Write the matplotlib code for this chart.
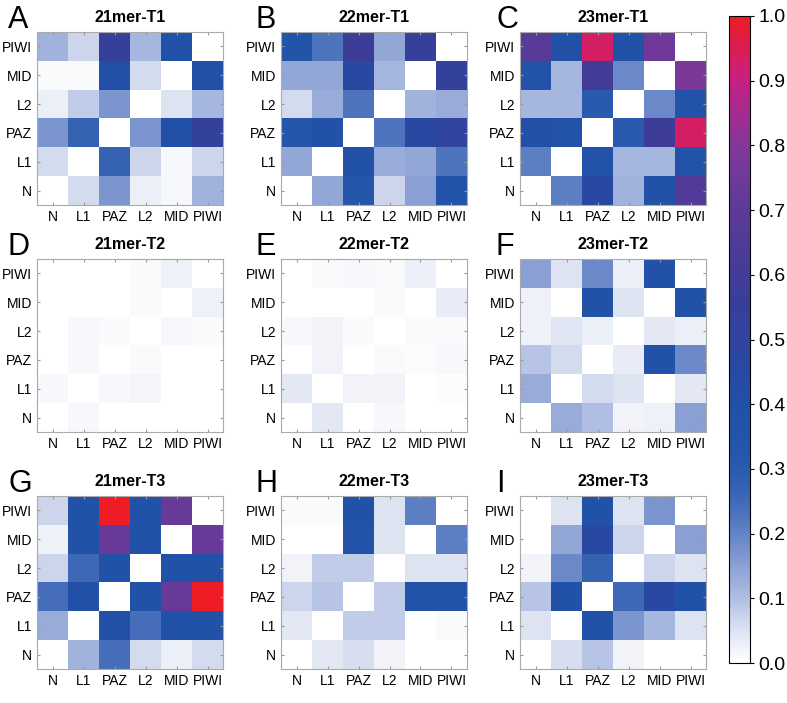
import matplotlib
matplotlib.use("Agg")
import matplotlib.pyplot as plt
from matplotlib.colors import LinearSegmentedColormap
import numpy as np

plt.rcParams['font.family'] = ['Liberation Sans', 'DejaVu Sans']

# domain labels, matrix rows listed from top (PIWI) to bottom (N)
cols = ['N', 'L1', 'PAZ', 'L2', 'MID', 'PIWI']
rows = ['PIWI', 'MID', 'L2', 'PAZ', 'L1', 'N']

titles = ['21mer-T1', '22mer-T1', '23mer-T1',
          '21mer-T2', '22mer-T2', '23mer-T2',
          '21mer-T3', '22mer-T3', '23mer-T3']
letters = ['A', 'B', 'C', 'D', 'E', 'F', 'G', 'H', 'I']

m21_t1 = [[0.12, 0.07, 0.55, 0.11, 0.38, 0.00],
          [0.01, 0.01, 0.40, 0.06, 0.00, 0.40],
          [0.03, 0.08, 0.17, 0.00, 0.05, 0.11],
          [0.17, 0.27, 0.00, 0.17, 0.40, 0.52],
          [0.06, 0.00, 0.27, 0.07, 0.015, 0.07],
          [0.00, 0.06, 0.17, 0.03, 0.015, 0.12]]
m22_t1 = [[0.35, 0.23, 0.58, 0.14, 0.55, 0.00],
          [0.14, 0.14, 0.45, 0.11, 0.00, 0.52],
          [0.06, 0.13, 0.23, 0.00, 0.12, 0.13],
          [0.33, 0.37, 0.00, 0.23, 0.45, 0.50],
          [0.14, 0.00, 0.37, 0.13, 0.14, 0.23],
          [0.00, 0.14, 0.33, 0.07, 0.15, 0.36]]
m23_t1 = [[0.68, 0.37, 0.93, 0.37, 0.75, 0.00],
          [0.36, 0.11, 0.60, 0.19, 0.00, 0.78],
          [0.11, 0.11, 0.30, 0.00, 0.19, 0.36],
          [0.40, 0.36, 0.00, 0.30, 0.58, 0.93],
          [0.21, 0.00, 0.36, 0.11, 0.11, 0.36],
          [0.00, 0.21, 0.45, 0.12, 0.38, 0.66]]
m21_t2 = [[0.00, 0.00, 0.00, 0.01, 0.025, 0.00],
          [0.00, 0.00, 0.00, 0.01, 0.00, 0.025],
          [0.00, 0.015, 0.01, 0.00, 0.012, 0.008],
          [0.00, 0.015, 0.00, 0.008, 0.00, 0.00],
          [0.015, 0.00, 0.015, 0.018, 0.00, 0.00],
          [0.00, 0.015, 0.00, 0.00, 0.00, 0.00]]
m22_t2 = [[0.00, 0.008, 0.015, 0.01, 0.03, 0.00],
          [0.00, 0.00, 0.00, 0.01, 0.00, 0.035],
          [0.012, 0.02, 0.008, 0.00, 0.01, 0.01],
          [0.00, 0.02, 0.00, 0.008, 0.005, 0.015],
          [0.04, 0.00, 0.02, 0.02, 0.00, 0.005],
          [0.00, 0.04, 0.00, 0.012, 0.00, 0.00]]
m23_t2 = [[0.15, 0.05, 0.19, 0.03, 0.37, 0.00],
          [0.025, 0.00, 0.38, 0.05, 0.00, 0.37],
          [0.025, 0.045, 0.03, 0.00, 0.04, 0.03],
          [0.09, 0.06, 0.00, 0.035, 0.37, 0.19],
          [0.13, 0.00, 0.06, 0.05, 0.00, 0.04],
          [0.00, 0.13, 0.10, 0.02, 0.025, 0.15]]
m21_t3 = [[0.07, 0.37, 1.00, 0.37, 0.73, 0.00],
          [0.025, 0.37, 0.73, 0.37, 0.00, 0.73],
          [0.07, 0.25, 0.37, 0.00, 0.37, 0.37],
          [0.24, 0.40, 0.00, 0.37, 0.73, 1.00],
          [0.13, 0.00, 0.40, 0.24, 0.37, 0.37],
          [0.00, 0.12, 0.24, 0.06, 0.03, 0.06]]
m22_t3 = [[0.01, 0.01, 0.37, 0.05, 0.21, 0.00],
          [0.00, 0.00, 0.36, 0.05, 0.00, 0.21],
          [0.02, 0.08, 0.08, 0.00, 0.05, 0.05],
          [0.07, 0.09, 0.00, 0.08, 0.36, 0.36],
          [0.04, 0.00, 0.08, 0.08, 0.00, 0.01],
          [0.00, 0.04, 0.055, 0.02, 0.00, 0.00]]
m23_t3 = [[0.00, 0.05, 0.37, 0.05, 0.17, 0.00],
          [0.00, 0.14, 0.45, 0.07, 0.00, 0.15],
          [0.02, 0.19, 0.27, 0.00, 0.07, 0.05],
          [0.09, 0.37, 0.00, 0.25, 0.45, 0.38],
          [0.05, 0.00, 0.37, 0.17, 0.11, 0.05],
          [0.00, 0.055, 0.09, 0.02, 0.00, 0.00]]

mats = [m21_t1, m22_t1, m23_t1, m21_t2, m22_t2, m23_t2, m21_t3, m22_t3, m23_t3]

# white -> blue -> purple -> red
cmap = LinearSegmentedColormap.from_list('wbpr', [
    (0.00, '#ffffff'), (0.05, '#dce2f2'), (0.10, '#aebde2'), (0.15, '#8aa0d4'),
    (0.20, '#6283c6'), (0.25, '#3f68b7'), (0.30, '#2a5aad'), (0.35, '#2254a8'),
    (0.40, '#2250a8'), (0.45, '#2849a2'), (0.50, '#30449e'), (0.55, '#373f99'),
    (0.60, '#423c98'), (0.70, '#5d3a98'), (0.80, '#82389a'), (0.90, '#c62085'),
    (1.00, '#ee1c24')])

W, H = 787, 703
fig = plt.figure(figsize=(W / 100, H / 100), dpi=100)

col_left = [37, 281, 520]
row_top = [32, 259, 496]
letter_x = [8, 256, 496]
aw, ah = 186, 173

im = None
for k, mat in enumerate(mats):
    r, c = divmod(k, 3)
    x0, y0 = col_left[c], row_top[r]
    ax = fig.add_axes([x0 / W, 1 - (y0 + ah) / H, aw / W, ah / H])
    im = ax.imshow(np.array(mat), cmap=cmap, vmin=0, vmax=1, aspect='auto',
                   interpolation='nearest')
    ax.set_xticks(range(6))
    ax.set_xticklabels(cols, fontsize=10)
    ax.set_yticks(range(6))
    ax.set_yticklabels(rows, fontsize=10)
    ax.tick_params(direction='in', length=2, color='#999999', top=True, right=True, pad=3.5)
    for s in ax.spines.values():
        s.set_color('#aaaaaa')
        s.set_linewidth(0.8)
    ax.set_title(titles[k], fontsize=11.5, fontweight='bold', pad=7)
    fig.text(letter_x[c] / W, 1 - (y0 - 4) / H, letters[k], fontsize=22,
             ha='left', va='baseline')

cax = fig.add_axes([729 / W, 1 - 663 / H, 21 / W, 647 / H])
cb = fig.colorbar(im, cax=cax, ticks=np.arange(0, 1.01, 0.1))
cb.ax.set_yticklabels(['%.1f' % v for v in np.arange(0, 1.01, 0.1)], fontsize=14)
cb.ax.tick_params(length=3, width=0.8, pad=3)
cb.outline.set_linewidth(0.8)

fig.savefig('out.png', dpi=100)
